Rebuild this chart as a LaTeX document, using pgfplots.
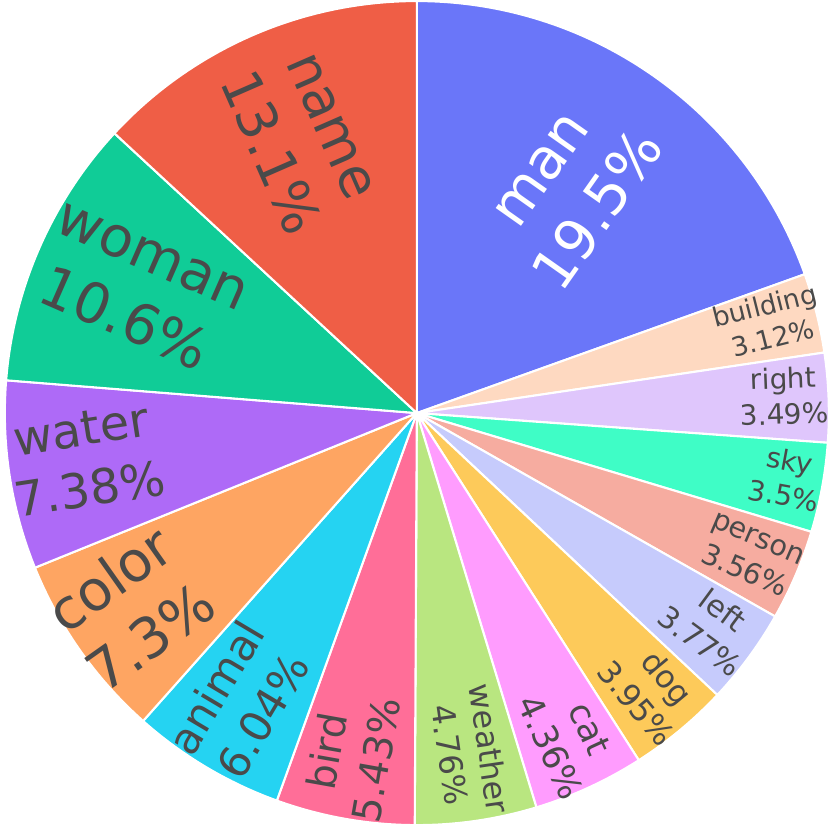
\documentclass[border=0pt]{standalone}
\usepackage{fontspec}
\setmainfont{DejaVu Sans}
\usepackage{pgfplots}
\usepackage{pgfplotstable}
\pgfplotsset{compat=1.18}

\definecolor{txt}{HTML}{4A4A4A}
\definecolor{pc0}{HTML}{6A76F9}
\definecolor{pc1}{HTML}{FED9C1}
\definecolor{pc2}{HTML}{DFC6FC}
\definecolor{pc3}{HTML}{3FFDC6}
\definecolor{pc4}{HTML}{F6ACA0}
\definecolor{pc5}{HTML}{C6CBFC}
\definecolor{pc6}{HTML}{FDCA5A}
\definecolor{pc7}{HTML}{FF9CFE}
\definecolor{pc8}{HTML}{B9E680}
\definecolor{pc9}{HTML}{FF6E98}
\definecolor{pc10}{HTML}{25D3F2}
\definecolor{pc11}{HTML}{FEA562}
\definecolor{pc12}{HTML}{AE6AF7}
\definecolor{pc13}{HTML}{10CC97}
\definecolor{pc14}{HTML}{EF5E46}

% slices clockwise from 12 o'clock; r = label radius, fs = font size (pt)
\pgfplotstableread[col sep=comma]{
label,value,r,fs,tc
man,19.5,0.655,16.2,white
building,3.12,0.88,7.6,txt
right,3.49,0.89,8.0,txt
sky,3.5,0.91,8.0,txt
person,3.56,0.88,8.2,txt
left,3.77,0.88,8.6,txt
dog,3.95,0.88,9.0,txt
cat,4.36,0.87,9.9,txt
weather,4.76,0.83,9.1,txt
bird,5.43,0.845,11.3,txt
animal,6.04,0.82,12.3,txt
color,7.3,0.84,16.0,txt
water,7.38,0.81,13.7,txt
woman,10.6,0.74,16.0,txt
name,13.1,0.72,15.5,txt
}\piedata

\begin{document}
\begin{tikzpicture}
\pgfplotstablegetrowsof{\piedata}%
\pgfmathtruncatemacro{\nrows}{\pgfplotsretval-1}%
\def\pTot{0}%
\pgfplotsforeachungrouped \i in {0,...,\nrows}{%
  \pgfplotstablegetelem{\i}{value}\of\piedata%
  \pgfmathsetmacro{\pTot}{\pTot+\pgfplotsretval}%
}%
\def\pCum{0}%
\pgfplotsforeachungrouped \i in {0,...,\nrows}{%
  \pgfplotstablegetelem{\i}{value}\of\piedata%
  \let\pV\pgfplotsretval%
  \expandafter\xdef\csname pieV\i\endcsname{\pV}%
  \pgfmathsetmacro{\pAs}{90-\pCum/\pTot*360}%
  \pgfmathsetmacro{\pCum}{\pCum+\pV}%
  \pgfmathsetmacro{\pAe}{90-\pCum/\pTot*360}%
  \pgfmathsetmacro{\pAm}{(\pAs+\pAe)/2}%
  \pgfmathsetmacro{\pRot}{cos(\pAm)<0 ? \pAm+180 : \pAm}%
  \pgfmathsetmacro{\pSx}{0.998*cos(\pAs)}%
  \pgfmathsetmacro{\pSy}{0.998*sin(\pAs)}%
  \pgfplotstablegetelem{\i}{r}\of\piedata%
  \let\pR\pgfplotsretval%
  \pgfmathsetmacro{\pX}{\pR*cos(\pAm)}%
  \pgfmathsetmacro{\pY}{\pR*sin(\pAm)}%
  \pgfplotstablegetelem{\i}{fs}\of\piedata%
  \let\pFs\pgfplotsretval%
  \pgfmathsetmacro{\pBs}{1.27*\pFs}%
  \pgfplotstablegetelem{\i}{tc}\of\piedata%
  \expandafter\colorlet\expandafter{\expandafter t\expandafter c\i}{\pgfplotsretval}%
  \pgfplotstablegetelem{\i}{label}\of\piedata%
  \expandafter\xdef\csname pieL\i\endcsname{\pgfplotsretval}%
  \expandafter\xdef\csname pieAs\i\endcsname{\pAs}%
  \expandafter\xdef\csname pieAe\i\endcsname{\pAe}%
  \expandafter\xdef\csname pieRot\i\endcsname{\pRot}%
  \expandafter\xdef\csname pieSx\i\endcsname{\pSx}%
  \expandafter\xdef\csname pieSy\i\endcsname{\pSy}%
  \expandafter\xdef\csname pieX\i\endcsname{\pX}%
  \expandafter\xdef\csname pieY\i\endcsname{\pY}%
  \expandafter\xdef\csname pieFs\i\endcsname{\pFs}%
  \expandafter\xdef\csname pieBs\i\endcsname{\pBs}%
}%
\begin{axis}[
    hide axis,
    scale only axis,
    width=8.31cm, height=8.31cm,
    xmin=-1, xmax=1, ymin=-1, ymax=1,
    clip=false
]
    \path (axis cs:-1,-1) rectangle (axis cs:1,1);
    % wedges
    \pgfplotsinvokeforeach{0,...,14}{
        \filldraw[fill=pc#1, draw=white, line width=0.6pt, line join=round]
            (axis cs:0,0) -- (axis cs:\csname pieSx#1\endcsname,\csname pieSy#1\endcsname)
            arc[start angle=\csname pieAs#1\endcsname, end angle=\csname pieAe#1\endcsname, radius=4.147cm]
            -- cycle;
    }
    % labels
    \pgfplotsinvokeforeach{0,...,14}{
        \node[rotate=\csname pieRot#1\endcsname, text=tc#1, align=center, inner sep=0pt,
              font=\fontsize{\csname pieFs#1\endcsname}{\csname pieBs#1\endcsname}\selectfont]
            at (axis cs:\csname pieX#1\endcsname,\csname pieY#1\endcsname)
            {\strut\csname pieL#1\endcsname\\\csname pieV#1\endcsname\%\strut};
    }
\end{axis}
\end{tikzpicture}
\end{document}
